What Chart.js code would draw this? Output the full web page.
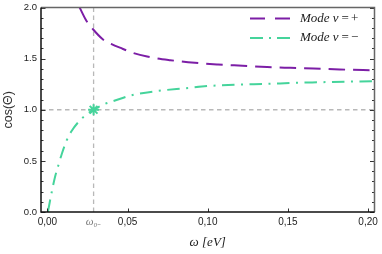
<!DOCTYPE html>
<html><head><meta charset="utf-8">
<script src="https://cdn.jsdelivr.net/npm/chart.js@4/dist/chart.umd.min.js"></script>
<style>html,body{margin:0;padding:0;background:#fff}</style>
</head><body>
<canvas id="c" width="382" height="254"></canvas>
<script>
// ---- data ----
const w0 = 0.0288;
const xMin = -0.004, xMax = 0.204;
const yMin = 0, yMax = 2;
const plusX = [0.0201, 0.0243, 0.0283, 0.0345, 0.0397, 0.0468, 0.0530, 0.0622, 0.0766, 0.0920, 0.1064, 0.1218, 0.1370, 0.1516, 0.1660, 0.1824, 0.1968, 0.2040];
const plusY = [2.000, 1.871, 1.790, 1.690, 1.645, 1.597, 1.558, 1.520, 1.485, 1.459, 1.443, 1.430, 1.417, 1.410, 1.404, 1.394, 1.388, 1.386];
const minusX = [0.0003, 0.0027, 0.0047, 0.0068, 0.0089, 0.0120, 0.0150, 0.0218, 0.0288, 0.0356, 0.0407, 0.0520, 0.0694, 0.0859, 0.1020, 0.1198, 0.1370, 0.1537, 0.1700, 0.1865, 0.2040];
const minusY = [0.000, 0.196, 0.340, 0.455, 0.565, 0.700, 0.790, 0.920, 1.000, 1.056, 1.082, 1.140, 1.185, 1.210, 1.234, 1.246, 1.253, 1.263, 1.269, 1.275, 1.279];
const xTickValues = [0, w0, 0.05, 0.10, 0.15, 0.20];
const xTickLabels = ['0,00', 'ω₀₋', '0,05', '0,10', '0,15', '0,20'];
const yTickValues = [0, 0.5, 1.0, 1.5, 2.0];
const yTickLabels = ['0.0', '0.5', '1.0', '1.5', '2.0'];
const yMinorTicks = [0.1,0.2,0.3,0.4,0.6,0.7,0.8,0.9,1.1,1.2,1.3,1.4,1.6,1.7,1.8,1.9];
const seriesLabels = ['Mode ν = +', 'Mode ν = −'];

const PURPLE = '#7c1ea6';
const GREEN = '#45d49b';
const GRID = '#b8b8b8';

const zip = (xs, ys) => xs.map((x, i) => ({x, y: ys[i]}));

const framePlugin = {
  id: 'frame',
  afterDatasetsDraw(chart) {
    const ctx = chart.ctx;
    const {left, right, top, bottom} = chart.chartArea;
    const ys = chart.scales.y, xs = chart.scales.x;
    ctx.save();
    ctx.setLineDash([]);
    ctx.strokeStyle = '#333';
    ctx.lineWidth = 1;
    ctx.beginPath();
    yTickValues.forEach(v => {
      const p = Math.round(ys.getPixelForValue(v)) + 0.5;
      ctx.moveTo(left, p); ctx.lineTo(left + 4.5, p);
      ctx.moveTo(right, p); ctx.lineTo(right - 4.5, p);
    });
    yMinorTicks.forEach(v => {
      const p = Math.round(ys.getPixelForValue(v)) + 0.5;
      ctx.moveTo(left, p); ctx.lineTo(left + 2.5, p);
      ctx.moveTo(right, p); ctx.lineTo(right - 2.5, p);
    });
    xTickValues.forEach((v, i) => {
      if (i === 1) return;
      const p = Math.round(xs.getPixelForValue(v)) + 0.5;
      ctx.moveTo(p, bottom); ctx.lineTo(p, bottom - 3.5);
    });
    ctx.stroke();
    ctx.lineWidth = 1.5;
    ctx.strokeStyle = '#666';
    ctx.beginPath();
    ctx.moveTo(left, top); ctx.lineTo(right, top); ctx.lineTo(right, bottom);
    ctx.stroke();
    ctx.strokeStyle = '#111';
    ctx.beginPath();
    ctx.moveTo(left, top); ctx.lineTo(left, bottom); ctx.lineTo(right, bottom);
    ctx.stroke();
    ctx.restore();
  }
};

const legendPlugin = {
  id: 'customLegend',
  afterDraw(chart) {
    const ctx = chart.ctx;
    ctx.save();
    const items = chart.data.datasets.filter(d => d.inLegend);
    items.forEach((d, i) => {
      const y = 18.5 + i * 19.5;
      ctx.strokeStyle = d.borderColor;
      ctx.lineWidth = 2;
      ctx.setLineDash(d.legendDash);
      ctx.beginPath();
      ctx.moveTo(250, y); ctx.lineTo(290, y);
      ctx.stroke();
      ctx.setLineDash([]);
      ctx.fillStyle = '#222';
      ctx.textBaseline = 'middle';
      ctx.textAlign = 'left';
      const eq = d.label.indexOf('=');
      const head = d.label.slice(0, eq).trim();
      const tail = d.label.slice(eq + 1).trim();
      ctx.font = 'italic 13px "Liberation Serif", serif';
      ctx.fillText(head, 300, y);
      let x = 300 + ctx.measureText(head).width + 3;
      ctx.font = '13px "Liberation Serif", serif';
      ctx.fillText('=', x, y);
      x += ctx.measureText('=').width + 2;
      ctx.fillText(tail, x, y);
    });
    ctx.restore();
  }
};

new Chart(document.getElementById('c'), {
  type: 'line',
  data: {
    datasets: [
      { label: 'gridV', data: [{x: w0, y: yMin}, {x: w0, y: yMax}], borderColor: GRID, borderWidth: 1.3, borderDash: [4.5, 3.5], pointRadius: 0, order: 5 },
      { label: 'gridH', data: [{x: xMin, y: 1}, {x: xMax, y: 1}], borderColor: GRID, borderWidth: 1.3, borderDash: [4.5, 3.5], pointRadius: 0, order: 5 },
      { label: seriesLabels[0], inLegend: true, legendDash: [15, 10], data: zip(plusX, plusY), borderColor: PURPLE, borderWidth: 2, borderDash: [16.5, 8], borderCapStyle: 'butt', pointRadius: 0, cubicInterpolationMode: 'monotone', order: 2 },
      { label: seriesLabels[1], inLegend: true, legendDash: [13, 6, 2, 6], data: zip(minusX, minusY), borderColor: GREEN, borderWidth: 2, borderDash: [12.5, 6.5, 2, 6.5], borderCapStyle: 'butt', pointRadius: 0, cubicInterpolationMode: 'monotone', order: 2 },
      { label: 'star', data: [{x: w0, y: 1}], showLine: false, pointStyle: 'star', pointRadius: 5.5, borderColor: GREEN, backgroundColor: GREEN, borderWidth: 2, order: 1 }
    ]
  },
  options: {
    responsive: false,
    animation: false,
    devicePixelRatio: 1,
    layout: {padding: {top: 5, right: 5, left: 0, bottom: 0}},
    plugins: {legend: {display: false}, tooltip: {enabled: false}},
    scales: {
      x: {
        type: 'linear', min: xMin, max: xMax,
        afterBuildTicks: s => { s.ticks = xTickValues.map(v => ({value: v})); },
        afterFit: s => { s.height = 42; s.paddingLeft = 0; s.paddingRight = 0; },
        grid: {display: false, drawTicks: false},
        border: {display: false},
        ticks: {
          padding: 4,
          autoSkip: false,
          maxRotation: 0,
          callback: (v, i) => xTickLabels[i],
          color: c => c.index === 1 ? '#777' : '#222',
          font: c => c.index === 1 ? {family: '"Liberation Serif", serif', style: 'italic', size: 11} : {family: '"Liberation Sans", Arial, sans-serif', size: 10}
        },
        title: {display: true, text: 'ω [eV]', color: '#222', font: {family: '"Liberation Serif", serif', style: 'italic', size: 13}, padding: {top: 0, bottom: 4}}
      },
      y: {
        type: 'linear', min: yMin, max: yMax,
        afterBuildTicks: s => { s.ticks = yTickValues.map(v => ({value: v})); },
        afterFit: s => { s.width = 41; s.paddingTop = 0; s.paddingBottom = 0; },
        grid: {display: false, drawTicks: false},
        border: {display: false},
        ticks: {
          padding: 4,
          callback: (v, i) => yTickLabels[i],
          color: '#222',
          font: {family: '"Liberation Sans", Arial, sans-serif', size: 9.5}
        },
        title: {display: true, text: 'cos(Θ)', color: '#333', font: {family: '"Liberation Sans", Arial, sans-serif', size: 12.5}, padding: {top: 1, bottom: 0}}
      }
    }
  },
  plugins: [framePlugin, legendPlugin]
});
</script>
</body></html>
